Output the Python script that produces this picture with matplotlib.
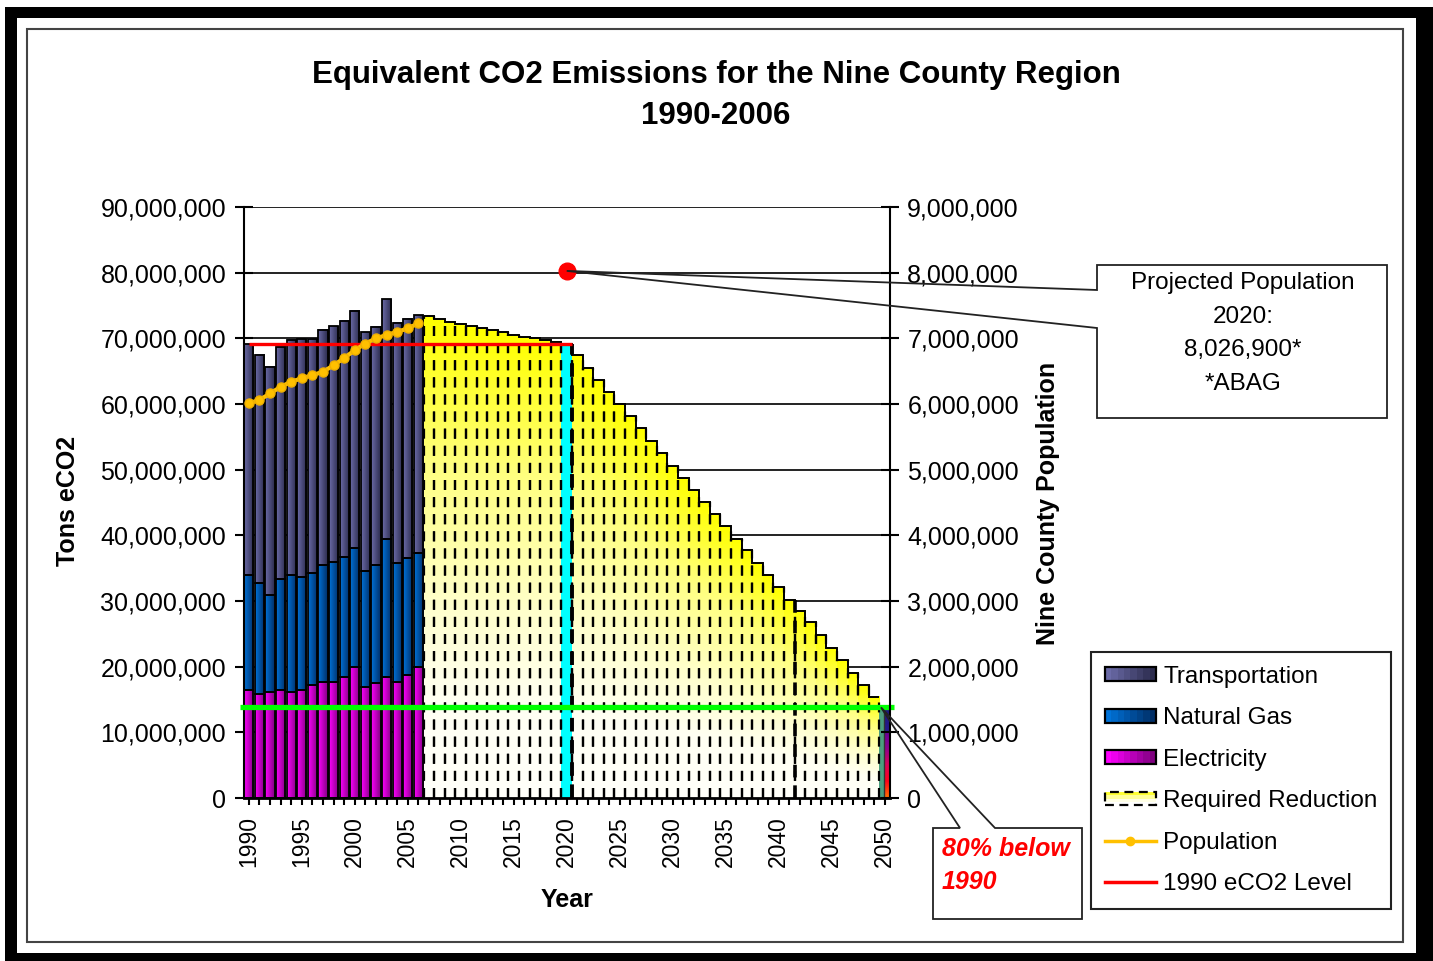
import numpy as np
import matplotlib
matplotlib.use("Agg")
import matplotlib.pyplot as plt
from matplotlib.patches import Rectangle, Polygon, Patch
from matplotlib.lines import Line2D
from matplotlib.legend_handler import HandlerBase
from matplotlib.ticker import FuncFormatter

plt.rcParams['font.family'] = ['Liberation Sans', 'DejaVu Sans']

# ---------------- data (tons eCO2) ----------------
hist_years = list(range(1990, 2007))
electricity = [16.5, 15.9, 16.2, 16.5, 16.2, 16.5, 17.2, 17.7, 17.7, 18.5,
               20.0, 16.9, 17.5, 18.4, 17.7, 18.7, 20.0]
natural_gas = [17.5, 16.8, 14.7, 16.8, 17.8, 17.2, 17.0, 17.8, 18.3, 18.2,
               18.0, 17.7, 18.0, 21.1, 18.1, 17.8, 17.3]
transportation = [35.1, 34.8, 34.8, 35.4, 35.8, 36.2, 35.7, 35.8, 35.9, 36.0,
                  36.2, 36.3, 36.3, 36.5, 36.6, 36.4, 36.2]
population = [6.01, 6.06, 6.16, 6.26, 6.34, 6.39, 6.44, 6.49, 6.59, 6.70,
              6.82, 6.92, 7.00, 7.05, 7.10, 7.15, 7.23]   # millions of people

req_years = list(range(2007, 2050))
required_reduction = [73.4, 72.9, 72.5, 72.2, 71.9, 71.5, 71.2, 70.9, 70.5, 70.2,
                      70.0, 69.7, 69.5, 69.1, 67.4, 65.5, 63.6, 61.8, 60.0, 58.1,
                      56.3, 54.4, 52.6, 50.6, 48.8, 46.9, 45.1, 43.2, 41.4, 39.5,
                      37.7, 35.8, 34.0, 32.1, 30.2, 28.5, 26.8, 24.8, 22.9, 21.0,
                      19.1, 17.2, 15.4]
year_2020 = 2020
year_2050 = 2050
target_2050_lower = 10.2
target_2050_upper = 3.6
level_1990 = 69.1
target_80 = 13.8
proj_pop_2020 = 8026900

x_tick_labels = [str(y) for y in range(1990, 2051, 5)]

# ---------------- figure ----------------
W, H = 1433, 961
fig = plt.figure(figsize=(W / 100, H / 100), dpi=100)
fig.patch.set_facecolor('white')


def fx(x):
    return x / W


def fy(y):
    return 1 - y / H


ax = fig.add_axes([fx(243.5), fy(798), fx(890) - fx(243.5), fy(207) - fy(798)])
ax.set_facecolor('white')
M = 1e6


def hgrad(x0, x1, y0, y1, cl, cr, z=2):
    t = np.linspace(0, 1, 40)[:, None]
    arr = (1 - t) * np.array(cl) + t * np.array(cr)
    ax.imshow(arr[None, :, :], extent=(x0, x1, y0, y1), aspect='auto',
              interpolation='bilinear', zorder=z, origin='lower')


def vgrad(x0, x1, y0, y1, colors, pos=None, z=2):
    colors = np.array(colors, dtype=float)
    n = 80
    t = np.linspace(0, 1, n)
    if pos is None:
        pos = np.linspace(0, 1, len(colors))
    arr = np.stack([np.interp(t, pos, colors[:, k]) for k in range(3)], axis=1)
    ax.imshow(arr[:, None, :], extent=(x0, x1, y0, y1), aspect='auto',
              interpolation='bilinear', zorder=z, origin='lower')


# colours
tr_c = ((0.42, 0.42, 0.66), (0.17, 0.17, 0.30))
ng_c = ((0.0, 0.45, 0.85), (0.0, 0.18, 0.40))
el_c = ((1.0, 0.0, 1.0), (0.50, 0.0, 0.50))
yellow_grad = [(1.0, 1.0, 0.98), (1.0, 1.0, 0.95), (1.0, 1.0, 0.80), (1.0, 1.0, 0.50),
               (1.0, 1.0, 0.25), (1.0, 1.0, 0.0)]
yellow_pos = [0.0, 0.2, 0.4, 0.7, 0.85, 1.0]

bw = 0.86
# historic stacked bars
for i, yr in enumerate(hist_years):
    e = electricity[i] * M
    g = natural_gas[i] * M
    t = transportation[i] * M
    x0, x1 = yr - bw / 2, yr + bw / 2
    hgrad(x0, x1, 0, e, *el_c)
    hgrad(x0, x1, e, e + g, *ng_c)
    hgrad(x0, x1, e + g, e + g + t, *tr_c)
el_arr = np.array(electricity) * M
ng_arr = np.array(natural_gas) * M
tr_arr = np.array(transportation) * M
ax.bar(hist_years, el_arr, bw, fill=False, edgecolor='black', lw=1.3, zorder=3)
ax.bar(hist_years, ng_arr, bw, bottom=el_arr, fill=False, edgecolor='black', lw=1.3, zorder=3)
ax.bar(hist_years, tr_arr, bw, bottom=el_arr + ng_arr, fill=False, edgecolor='black', lw=1.3, zorder=3)

# required reduction bars
req = np.array(required_reduction) * M
for yr, h in zip(req_years, req):
    if yr == year_2020:
        ax.bar([yr], [h], 1.0, color='#00ffff', edgecolor='none', zorder=2)
    else:
        vgrad(yr - 0.5, yr + 0.5, 0, h, yellow_grad, yellow_pos)
dash = (0, (4.5, 3.2))
for yr, h in zip(req_years, req):
    ax.vlines([yr - 0.5, yr + 0.5], 0, h, colors='black', lw=1.6,
              linestyles=[dash], zorder=3)
edges = np.arange(req_years[0] - 0.5, req_years[-1] + 1.0, 1.0)
ax.stairs(req, edges, baseline=None, color='black', lw=1.4, zorder=3)
# heavier dashes
ax.vlines([year_2020 + 0.5], 0, req[req_years.index(year_2020)], colors='black', lw=2.8,
          linestyles=[(0, (3.5, 2.2))], zorder=3)
ax.vlines([2041.5], 0, req[req_years.index(2041)], colors='black', lw=2.6,
          linestyles=[(0, (3.5, 2.2))], zorder=3)

# 2050 target bar
x0 = year_2050 - 0.5
vgrad(x0, x0 + 0.4, 0, (target_2050_lower + target_2050_upper) * M,
      [(0.3, 0.62, 0.5), (0.3, 0.62, 0.5)])
vgrad(x0 + 0.4, year_2050 + 0.5, 0, target_2050_lower * M,
      [(1.0, 0.45, 0.0), (1.0, 0.0, 0.1), (0.85, 0.0, 0.35), (0.55, 0.0, 0.55), (0.4, 0.0, 0.6)])
vgrad(x0 + 0.4, year_2050 + 0.5, target_2050_lower * M,
      (target_2050_lower + target_2050_upper) * M, [(0.15, 0.1, 0.55), (0.12, 0.08, 0.5)])
ax.vlines([x0 + 0.4], 0, (target_2050_lower + target_2050_upper) * M, colors='#333333', lw=1, zorder=3)

# 1990 level and 80% target lines
ax.hlines(level_1990 * M, 1990, year_2020 + 0.5, colors='#ff0000', lw=2.4, zorder=6)
ax.hlines(target_80 * M, 1989.2, 2050.9, colors='#00ff00', lw=3.8, zorder=6, clip_on=False)

ax.set_xlim(1989.5, 2050.5)
ax.set_ylim(0, 90 * M)
ax.set_yticks(np.arange(0, 91, 10) * M)
ax.yaxis.set_major_formatter(FuncFormatter(lambda v, p: f"{v:,.0f}"))
ax.set_xticks(range(1990, 2051))
ax.set_xticklabels([str(y) if str(y) in x_tick_labels else '' for y in range(1990, 2051)])
ax.set_axisbelow(True)
ax.grid(axis='y', color='#111111', lw=1.3, zorder=0)
ax.grid(axis='x', visible=False)
ax.tick_params(axis='y', direction='inout', length=13, width=1.5, labelsize=18, pad=6)
ax.tick_params(axis='x', direction='inout', length=10, width=1.5, labelsize=16.5,
               labelrotation=90, pad=8)
for s in ['top', 'right']:
    ax.spines[s].set_visible(False)
ax.spines['left'].set_linewidth(1.5)
ax.spines['bottom'].set_linewidth(2.0)

ax2 = ax.twinx()
ax2.set_ylim(0, 9 * M)
ax2.set_yticks(np.arange(0, 10, 1) * M)
ax2.yaxis.set_major_formatter(FuncFormatter(lambda v, p: f"{v:,.0f}"))
ax2.tick_params(axis='y', direction='inout', length=13, width=1.5, labelsize=18, pad=6)
for s in ['top', 'left', 'bottom']:
    ax2.spines[s].set_visible(False)
ax2.spines['right'].set_linewidth(1.5)

ax2.plot(hist_years, np.array(population) * M, color='#ffc000', lw=3, marker='o',
         markersize=6.5, markeredgecolor='#f0b000', zorder=7)
ax2.plot([year_2020], [proj_pop_2020], 'o', color='#ff0000', markersize=12, zorder=8)

# titles
fig.text(fx(716), fy(75), 'Equivalent CO2 Emissions for the Nine County Region',
         ha='center', va='center', fontsize=22.5, fontweight='bold')
fig.text(fx(716), fy(116), '1990-2006', ha='center', va='center', fontsize=22.5, fontweight='bold')
fig.text(fx(68), fy(501), 'Tons eCO2', rotation=90, ha='center', va='center',
         fontsize=18, fontweight='bold')
fig.text(fx(1048), fy(503), 'Nine County Population', rotation=90, ha='center', va='center',
         fontsize=18, fontweight='bold')
fig.text(fx(567), fy(900), 'Year', ha='center', va='center', fontsize=18, fontweight='bold')


# callouts
def to_pix(axis, x, y):
    d = axis.transData.transform((x, y))
    f = fig.transFigure.inverted().transform(d)
    return f[0] * W, (1 - f[1]) * H


tip1 = to_pix(ax2, year_2020, proj_pop_2020)
poly1 = [(1097, 265), (1387, 265), (1387, 418), (1097, 418), (1097, 328), tip1, (1097, 290)]
fig.add_artist(Polygon([(fx(a), fy(b)) for a, b in poly1], closed=True, fill=False,
                       edgecolor='#222222', lw=1.3, transform=fig.transFigure))
for txt, yy in zip(['Projected Population', '2020:', '8,026,900*', '*ABAG'], [283, 317, 350, 384]):
    fig.text(fx(1243), fy(yy), txt, ha='center', va='center', fontsize=17.5)

tip2 = to_pix(ax, year_2050 - 0.35, target_80 * M)
poly2 = [(933, 828), (960, 828), tip2, (995, 828), (1082, 828), (1082, 919), (933, 919)]
fig.add_artist(Polygon([(fx(a), fy(b)) for a, b in poly2], closed=True, fill=False,
                       edgecolor='#222222', lw=1.3, transform=fig.transFigure))
fig.text(fx(942), fy(849), '80% below', ha='left', va='center', fontsize=18,
         fontweight='bold', fontstyle='italic', color='#ff0000')
fig.text(fx(942), fy(882), '1990', ha='left', va='center', fontsize=18,
         fontweight='bold', fontstyle='italic', color='#ff0000')


# legend
class GradHandler(HandlerBase):
    def __init__(self, colors, vertical=False, dashed=False):
        super().__init__()
        self.colors = colors
        self.vertical = vertical
        self.dashed = dashed

    def create_artists(self, legend, orig_handle, xdescent, ydescent, width, height,
                       fontsize, trans):
        arts = []
        n = len(self.colors)
        for i, c in enumerate(self.colors):
            if self.vertical:
                r = Rectangle((-xdescent, -ydescent + height * (n - 1 - i) / n), width, height / n,
                              facecolor=c, edgecolor='none', transform=trans)
            else:
                r = Rectangle((-xdescent + width * i / n, -ydescent), width / n, height,
                              facecolor=c, edgecolor='none', transform=trans)
            arts.append(r)
        o = Rectangle((-xdescent, -ydescent), width, height, fill=False, edgecolor='black',
                      lw=1.6, linestyle=(0, (4, 2.5)) if self.dashed else '-', transform=trans)
        arts.append(o)
        return arts


def ramp(c1, c2, n=8):
    return [tuple((1 - t) * np.array(c1) + t * np.array(c2)) for t in np.linspace(0, 1, n)]


h_tr = Patch(label='Transportation')
h_ng = Patch(label='Natural Gas')
h_el = Patch(label='Electricity')
h_rr = Patch(label='Required Reduction')
h_po = Line2D([], [], color='#ffc000', lw=2.5, marker='o', markersize=6, label='Population')
h_lv = Line2D([], [], color='#ff0000', lw=2.5, label='1990 eCO2 Level')
hmap = {h_tr: GradHandler(ramp(*tr_c)), h_ng: GradHandler(ramp(*ng_c)),
        h_el: GradHandler(ramp(*el_c)),
        h_rr: GradHandler([(1, 1, 0.2), (1, 1, 0.6), (1, 1, 0.9), (1, 1, 1)], vertical=True, dashed=True)}
leg = fig.legend(handles=[h_tr, h_ng, h_el, h_rr, h_po, h_lv], handler_map=hmap,
                 loc='upper left', bbox_to_anchor=(fx(1091), fy(652)),
                 bbox_transform=fig.transFigure, frameon=True, fancybox=False,
                 edgecolor='#222222', fontsize=17.5, handlelength=2.1, handleheight=0.5,
                 handletextpad=0.3, labelspacing=0.8, borderpad=0.57, borderaxespad=0,
                 framealpha=1, numpoints=1)
leg.get_frame().set_linewidth(1.5)

# outer frames
for (x0_, y0_, x1_, y1_) in [(5, 7, 17, 961), (5, 7, 1433, 18), (1416, 7, 1433, 961), (5, 953, 1433, 961)]:
    fig.add_artist(Rectangle((fx(x0_), fy(y1_)), fx(x1_) - fx(x0_), fy(y0_) - fy(y1_),
                             facecolor='black', edgecolor='none', transform=fig.transFigure))
fig.add_artist(Rectangle((fx(27), fy(942)), fx(1403) - fx(27), fy(29) - fy(942), fill=False,
                         edgecolor='#444444', lw=1.5, transform=fig.transFigure))

fig.savefig('out.png', dpi=100, facecolor='white')
